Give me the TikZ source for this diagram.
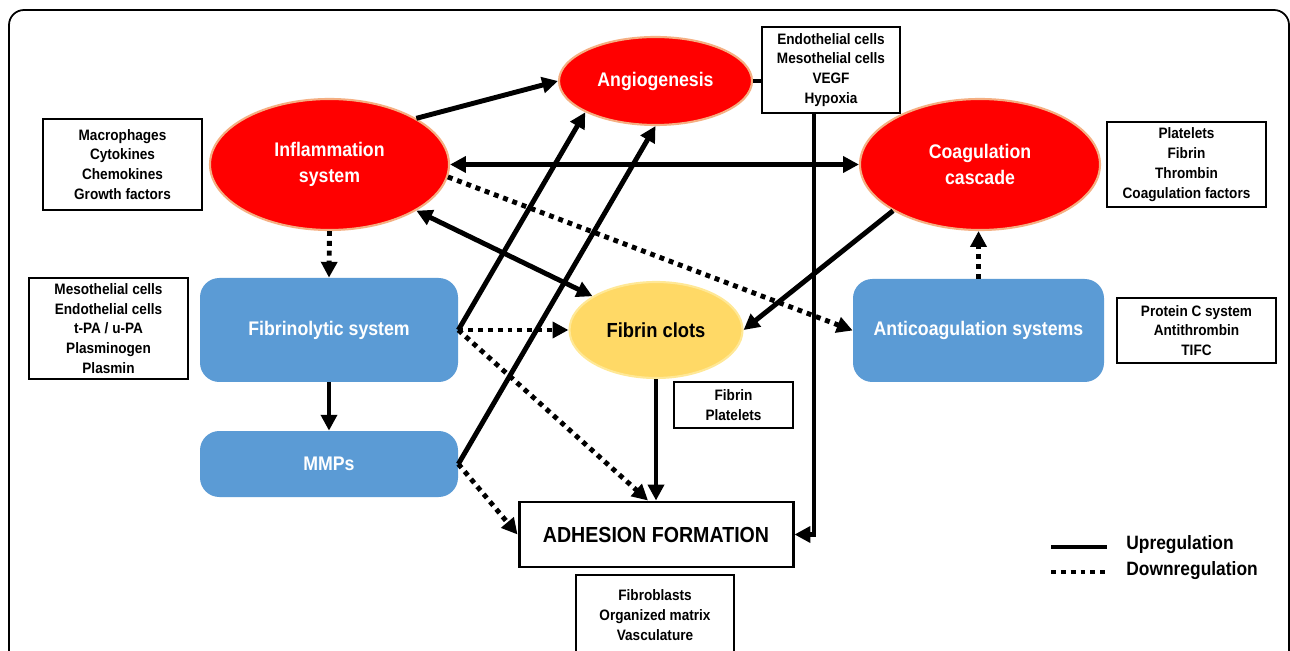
\documentclass[tikz,border=0pt]{standalone}
\usepackage{fontspec}
\setmainfont{Liberation Sans}[FakeStretch=0.9]
\usetikzlibrary{shapes.geometric,arrows.meta}
\definecolor{redfill}{RGB}{255,0,0}
\definecolor{redrim}{RGB}{245,175,130}
\definecolor{bluefill}{RGB}{91,155,213}
\definecolor{yelfill}{RGB}{255,217,102}
\definecolor{yelrim}{RGB}{255,232,150}
\tikzset{
  redell/.style={ellipse, fill=redfill, draw=redrim, line width=1.2pt, inner sep=0pt,
    text=white, align=center, font=\bfseries\fontsize{11.2}{15}\selectfont},
  yelell/.style={ellipse, fill=yelfill, draw=yelrim, line width=1.2pt, inner sep=0pt,
    text=black, align=center, font=\bfseries\fontsize{11.6}{15}\selectfont},
  bluebox/.style={rectangle, rounded corners=11pt, fill=bluefill, inner sep=0pt,
    text=white, align=center, font=\bfseries\fontsize{11.2}{15}\selectfont},
  infobox/.style={rectangle, draw=black, line width=1.1pt, fill=white, inner sep=0pt,
    align=center, font=\bfseries\fontsize{8.6}{11.3}\selectfont},
  up/.style={line width=2.8pt, -{Triangle[length=9pt,width=9pt]}},
  upboth/.style={line width=2.8pt, {Triangle[length=9pt,width=9pt]}-{Triangle[length=9pt,width=9pt]}},
  down/.style={line width=2.8pt, dash pattern=on 2.8pt off 2.8pt, -{Triangle[length=9pt,width=9pt]}},
  plain/.style={line width=2.8pt},
}
\begin{document}
\begin{tikzpicture}[x=0.02cm,y=-0.02cm]
\useasboundingbox (0,0) rectangle (1290,651);
\clip (0,0) rectangle (1290,651);
\fill[white] (0,0) rectangle (1290,651);
% frame
\draw[line width=1pt, rounded corners=0.3cm] (9,670) -- (9,10) -- (1289,10) -- (1289,670);

% main nodes
\node[redell, minimum width={239*0.02cm}, minimum height={131*0.02cm}] (infl) at (329.5,164.5) {Inflammation\\system};
\node[redell, minimum width={193*0.02cm}, minimum height={88*0.02cm}] (angio) at (655.5,81) {Angiogenesis};
\node[redell, minimum width={240*0.02cm}, minimum height={131*0.02cm}] (coag) at (980,164.5) {Coagulation\\cascade};
\node[yelell, minimum width={173*0.02cm}, minimum height={96*0.02cm}] (fibrin) at (656,330) {Fibrin clots};
\node[bluebox, minimum width={258*0.02cm}, minimum height={104*0.02cm}] (fibrino) at (329,330) {Fibrinolytic system};
\node[bluebox, minimum width={258*0.02cm}, minimum height={66*0.02cm}] (mmps) at (329,464) {MMPs};
\node[bluebox, minimum width={251*0.02cm}, minimum height={103*0.02cm}] (anti) at (978.5,330.5) {Anticoagulation systems};
\node[rectangle, draw=black, line width=1.7pt, fill=white, inner sep=0pt,
  minimum width={274*0.02cm}, minimum height={65*0.02cm},
  font=\bfseries\fontsize{12.4}{15}\selectfont] (adh) at (656,534.5) {ADHESION FORMATION};

% info boxes
\node[infobox, minimum width={159*0.02cm}, minimum height={91*0.02cm}] (macro) at (122.5,164.5) {Macrophages\\Cytokines\\Chemokines\\Growth factors};
\node[infobox, minimum width={138*0.02cm}, minimum height={86*0.02cm}] (endo) at (831,70) {Endothelial cells\\Mesothelial cells\\VEGF\\Hypoxia};
\node[infobox, minimum width={159*0.02cm}, minimum height={85*0.02cm}] (plat) at (1186.5,164.5) {Platelets\\Fibrin\\Thrombin\\Coagulation factors};
\node[infobox, minimum width={159*0.02cm}, minimum height={101*0.02cm}] (meso) at (108.5,328.5) {Mesothelial cells\\Endothelial cells\\t-PA / u-PA\\Plasminogen\\Plasmin};
\node[infobox, minimum width={159*0.02cm}, minimum height={65*0.02cm}] (protc) at (1196.5,330.5) {Protein C system\\Antithrombin\\TIFC};
\node[infobox, minimum width={119*0.02cm}, minimum height={46*0.02cm}] (fibplat) at (733.5,405) {Fibrin\\Platelets};
\node[infobox, minimum width={158*0.02cm}, minimum height={80*0.02cm}] (fibro) at (655,615) {Fibroblasts\\Organized matrix\\Vasculature};

% connectors
\draw[up] (infl.28) -- (angio.west);
\draw[upboth] (infl.east) -- (coag.west);
\draw[down] (infl.-6) -- (anti.west);
\draw[upboth] (infl.-28) -- (fibrin.152);
\draw[down] (infl.south) -- (fibrino.north);
\draw[up] (fibrino.east) -- (angio.204);
\draw[up] (mmps.east) -- (angio.south);
\draw[down] (fibrino.east) -- (fibrin.west);
\draw[down] (fibrino.east) -- ([xshift={-8*0.02cm}]adh.north);
\draw[down] (mmps.east) -- (adh.west);
\draw[up] (fibrino.south) -- (mmps.north);
\draw[up] (fibrin.south) -- (adh.north);
\draw[up] (coag.208) -- (fibrin.east);
\draw[down] (anti.north) -- (anti.north |- coag.south);
\draw[plain] (angio.east) -- (endo.west |- angio.east);
\draw[up] ([xshift={-17*0.02cm}]endo.south) |- (adh.east);

% legend
\coordinate (la1) at (1051,547);
\coordinate (la2) at (1107,547);
\coordinate (lb1) at (1051,572);
\coordinate (lb2) at (1107,572);
\draw[plain] (la1) -- (la2);
\draw[line width=2.8pt, dash pattern=on 2.8pt off 2.8pt] (lb1) -- (lb2);
\node[anchor=west, inner sep=0pt, font=\bfseries\fontsize{11}{13}\selectfont] (lup) at (1126,545) {Upregulation};
\node[anchor=west, inner sep=0pt, font=\bfseries\fontsize{11}{13}\selectfont] (ldown) at (1126,571) {Downregulation};
\end{tikzpicture}
\end{document}
